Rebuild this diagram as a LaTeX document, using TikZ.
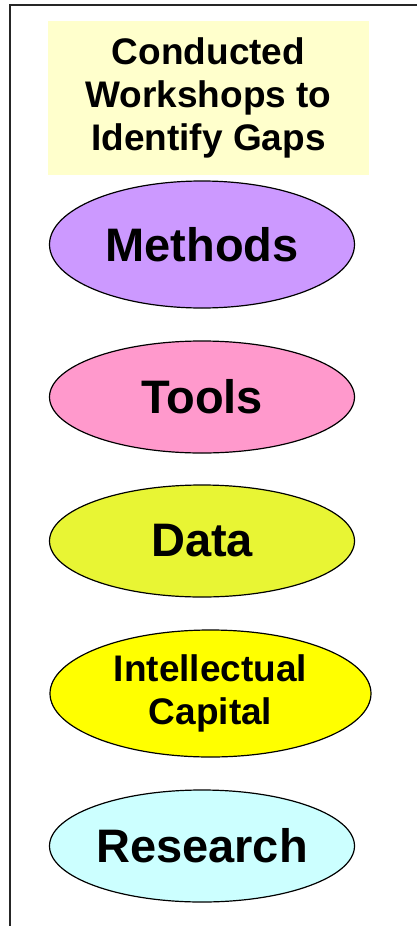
\documentclass[tikz,border=0pt]{standalone}
\usepackage{fontspec}
\setmainfont{Liberation Sans}
\usepackage{tikz}
\usetikzlibrary{shapes.geometric}

\definecolor{headfill}{HTML}{FFFFCC}
\definecolor{methodsfill}{HTML}{CC99FF}
\definecolor{toolsfill}{HTML}{FF99CC}
\definecolor{datafill}{HTML}{E8F534}
\definecolor{capitalfill}{HTML}{FFFF00}
\definecolor{researchfill}{HTML}{CCFFFF}

\begin{document}
\begin{tikzpicture}[x=1pt,y=-1pt,
    gap/.style={ellipse,draw=black,line width=1.2pt,inner sep=0pt,
        minimum width=305pt,minimum height=112pt,font=\bfseries\fontsize{47}{56}\selectfont},
    small/.style={font=\bfseries\fontsize{37}{43}\selectfont,align=center}]
        \useasboundingbox (0,0) rectangle (417,926);

        % Frame
        \draw[line width=2pt,black!85] (9.5,926) -- (9.5,5) -- (417,5);

        % Heading
        \node[small,fill=headfill,minimum width=321pt,minimum height=154pt,inner sep=0pt] (workshops) at (208.5,98)
            {Conducted\\Workshops to\\Identify Gaps};

        % Gaps
        \node[gap,fill=methodsfill,minimum height=127pt] (methods) at (202,244.5) {Methods};
        \node[gap,fill=toolsfill] (tools) at (202,397) {Tools};
        \node[gap,fill=datafill] (data) at (202,541) {Data};
        \node[gap,small,fill=capitalfill,minimum width=321pt,minimum height=127pt] (capital) at (210.5,693.5)
            {Intellectual\\Capital};
        \node[gap,fill=researchfill] (research) at (202,846) {Research};
    \end{tikzpicture}
\end{document}
